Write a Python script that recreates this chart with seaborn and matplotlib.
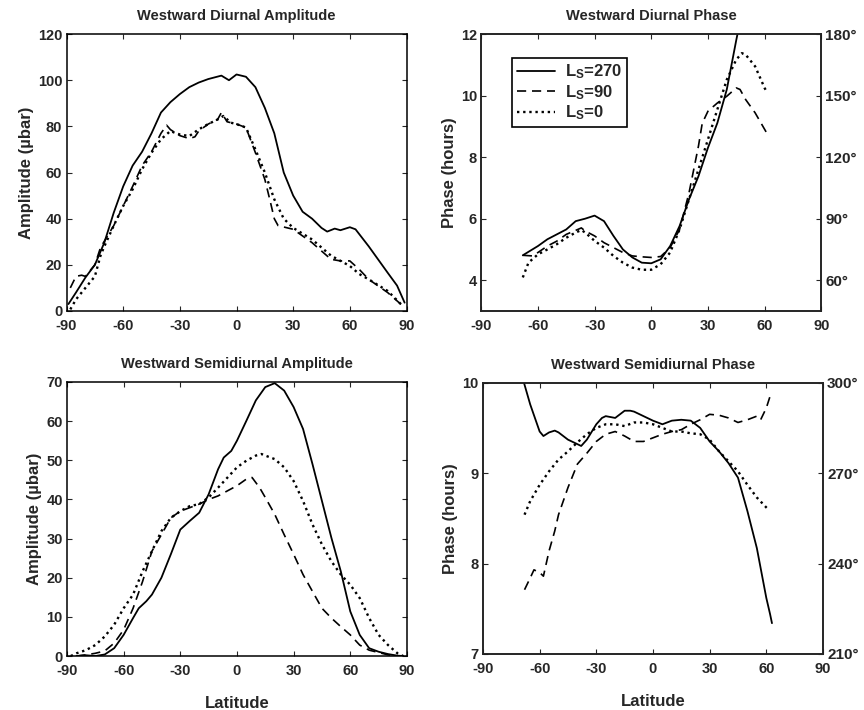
import numpy as np
import pandas as pd
import matplotlib
matplotlib.use("Agg")
import matplotlib.pyplot as plt
import seaborn as sns

# ---------------- data ----------------
# Westward diurnal amplitude (microbar)
da_lat_270 = [-89, -85, -80, -75, -70, -65, -60, -55, -50, -45, -40, -35, -30, -25, -20, -15, -8, -4, 0, 5, 10, 15, 20, 25, 30, 35, 40, 45, 48, 52, 55, 60, 63, 70, 80, 85, 89]
da_val_270 = [3, 8, 14.5, 20, 29.6, 42.6, 54, 63, 69, 77, 86, 90.5, 94, 97, 99, 100.5, 102, 100, 102.5, 101.5, 97, 88, 77, 60, 50, 43, 40, 36, 34.4, 35.7, 35, 36.3, 35.4, 28, 16.6, 11, 3.6]
da_lat_90 = [-88, -85, -82, -80, -75, -72, -65, -60, -55, -50, -45, -40, -37, -35, -30, -25, -22, -20, -15, -10, -8, -5, 0, 5, 10, 15, 18, 20, 22, 25, 30, 40, 50, 55, 60, 65, 70, 80, 88]
da_val_90 = [10, 15, 15.5, 15, 20, 27.5, 37, 45.5, 54, 63, 69, 77, 80.5, 78.6, 76, 74.7, 75.5, 78, 81, 83, 86, 82, 81, 79.5, 68.6, 57, 47, 40, 37, 36.4, 35.4, 29.6, 22.4, 21.7, 21.7, 18, 13.7, 8, 2.2]
da_lat_0 = [-88, -85, -80, -75, -72, -70, -65, -60, -55, -50, -45, -40, -35, -32, -30, -25, -20, -15, -10, -7, -3, 0, 5, 10, 15, 20, 25, 30, 40, 50, 60, 65, 70, 80, 88]
da_val_0 = [0.7, 5, 10, 15, 24, 28, 37, 45.5, 52.7, 61.4, 68.6, 74.4, 78, 77, 76.5, 75.8, 78.7, 81, 83, 84.5, 81.6, 81, 79.5, 70, 60, 48.4, 40, 36, 31, 24, 19.5, 16, 13.7, 8.7, 2.2]

# Westward diurnal phase (hours)
dp_lat_270 = [-68, -60, -55, -50, -45, -40, -35, -30, -25, -20, -15, -10, -5, 0, 5, 10, 15, 20, 25, 30, 35, 40, 45, 47]
dp_val_270 = [4.81, 5.11, 5.33, 5.49, 5.65, 5.92, 6.0, 6.1, 5.92, 5.44, 5.0, 4.74, 4.57, 4.55, 4.68, 5.11, 5.76, 6.63, 7.38, 8.3, 9.11, 10.2, 11.8, 12.4]
dp_lat_90 = [-68, -63, -60, -55, -50, -45, -40, -37, -35, -30, -25, -20, -15, -10, -5, 0, 5, 10, 15, 20, 25, 27, 30, 32, 35, 40, 45, 47, 50, 55, 61]
dp_val_90 = [4.81, 4.79, 4.9, 5.11, 5.27, 5.49, 5.62, 5.7, 5.6, 5.44, 5.22, 5.06, 4.9, 4.79, 4.76, 4.74, 4.77, 5.06, 5.65, 6.84, 8.36, 9.1, 9.49, 9.6, 9.76, 9.98, 10.25, 10.2, 9.87, 9.44, 8.8]
dp_lat_0 = [-68, -65, -60, -55, -50, -45, -40, -37, -35, -30, -25, -20, -15, -10, -5, 0, 5, 10, 15, 20, 25, 30, 35, 40, 45, 48, 50, 55, 60, 61]
dp_val_0 = [4.09, 4.57, 4.84, 5.0, 5.17, 5.38, 5.55, 5.63, 5.55, 5.28, 5.06, 4.79, 4.57, 4.41, 4.34, 4.34, 4.52, 4.9, 5.65, 6.63, 7.6, 8.57, 9.55, 10.52, 11.17, 11.38, 11.33, 10.95, 10.25, 10.14]

# Westward semidiurnal amplitude (microbar)
sa_lat_270 = [-85, -80, -75, -70, -65, -60, -55, -52, -48, -45, -40, -35, -30, -25, -20, -15, -10, -7, -3, 0, 5, 10, 15, 20, 25, 30, 35, 40, 45, 50, 55, 60, 65, 70, 75, 80, 85, 88]
sa_val_270 = [0, 0.2, 0, 0.4, 2, 5.4, 9.7, 12.2, 14, 15.7, 20, 26, 32.3, 34.5, 36.6, 41.3, 47.7, 50.7, 52.4, 55, 60.1, 65.3, 68.7, 69.7, 67.8, 63.6, 58, 49, 39.6, 30.2, 21.6, 11.4, 5.4, 2, 1.1, 0.5, 0.1, 0]
sa_lat_90 = [-85, -80, -75, -70, -65, -60, -55, -50, -45, -40, -35, -30, -25, -20, -15, -10, -5, 0, 5, 8, 12, 15, 20, 25, 30, 35, 40, 45, 50, 55, 60, 65, 70, 75, 80, 85]
sa_val_90 = [0, 0.3, 0.7, 1.3, 3.3, 6.7, 12.2, 19, 26.8, 31, 35.3, 37, 37.9, 38.8, 40, 40.9, 42.2, 43.5, 45.2, 45.6, 43, 40.5, 36.2, 31, 26, 20.8, 16.5, 12.2, 9.7, 7.5, 5.4, 2.8, 1.5, 0.9, 0.3, 0]
sa_lat_0 = [-88, -85, -80, -75, -70, -65, -60, -55, -50, -45, -40, -35, -30, -25, -20, -15, -10, -5, 0, 5, 10, 13, 15, 20, 25, 30, 35, 40, 45, 50, 55, 60, 65, 70, 75, 80, 85, 88]
sa_val_0 = [0, 0.7, 1.5, 2.8, 5, 8, 12.2, 15.7, 21.6, 26.8, 31.9, 35.3, 37, 38.3, 38.8, 40.5, 43, 45.6, 48.2, 49.9, 51.2, 51.6, 51.2, 50.3, 48.2, 44.7, 39.6, 33.6, 28.5, 24.2, 20.8, 18.2, 14.8, 9.7, 5.4, 2.8, 0.7, 0]

# Westward semidiurnal phase (hours)
sp_lat_270 = [-69, -65, -62, -60, -58, -55, -52, -50, -45, -40, -38, -35, -30, -27, -25, -20, -15, -12, -10, -5, 0, 5, 10, 15, 20, 25, 30, 35, 40, 45, 50, 55, 57, 60, 62, 63]
sp_val_270 = [10.05, 9.76, 9.58, 9.46, 9.41, 9.45, 9.47, 9.45, 9.37, 9.32, 9.3, 9.37, 9.54, 9.61, 9.63, 9.61, 9.69, 9.69, 9.68, 9.63, 9.58, 9.54, 9.58, 9.59, 9.58, 9.5, 9.35, 9.24, 9.11, 8.95, 8.58, 8.17, 7.95, 7.62, 7.44, 7.34]
sp_lat_90 = [-68, -65, -63, -60, -58, -55, -52, -50, -45, -40, -35, -30, -25, -20, -15, -10, -5, 0, 5, 10, 15, 20, 25, 30, 35, 40, 45, 50, 55, 57, 60, 62]
sp_val_90 = [7.71, 7.84, 7.93, 7.9, 7.86, 8.14, 8.36, 8.54, 8.84, 9.1, 9.22, 9.35, 9.43, 9.46, 9.41, 9.35, 9.35, 9.39, 9.43, 9.46, 9.48, 9.54, 9.59, 9.65, 9.64, 9.61, 9.56, 9.59, 9.63, 9.59, 9.72, 9.85]
sp_lat_0 = [-68, -65, -60, -55, -50, -45, -40, -35, -30, -25, -20, -15, -10, -5, 0, 5, 10, 15, 20, 25, 30, 35, 40, 45, 50, 55, 60, 61]
sp_val_0 = [8.54, 8.69, 8.87, 9.02, 9.15, 9.24, 9.34, 9.43, 9.5, 9.54, 9.54, 9.52, 9.56, 9.56, 9.54, 9.5, 9.46, 9.46, 9.44, 9.43, 9.37, 9.24, 9.13, 9.02, 8.87, 8.73, 8.62, 8.6]

season_labels = ["270", "90", "0"]
lat_ticks = [-90, -60, -30, 0, 30, 60, 90]

# ---------------- style ----------------
sns.set_style("ticks")
plt.rcParams["font.family"] = ["Liberation Sans", "DejaVu Sans"]
plt.rcParams["font.weight"] = "bold"
plt.rcParams["axes.labelweight"] = "bold"
plt.rcParams["axes.titleweight"] = "bold"
plt.rcParams["axes.unicode_minus"] = False
plt.rcParams["mathtext.fontset"] = "custom"
plt.rcParams["mathtext.rm"] = "Liberation Sans:bold"
plt.rcParams["mathtext.it"] = "Liberation Sans:bold"
plt.rcParams["mathtext.bf"] = "Liberation Sans:bold"

line_styles = ["-", (0, (5.5, 3.5)), (0, (1, 1.6))]
line_widths = [1.3, 1.2, 1.7]
TICK_FS = 10.5

fig = plt.figure(figsize=(8.64, 7.10), dpi=100)
ax1 = fig.add_axes([0.0770, 0.562, 0.3935, 0.390])
ax2 = fig.add_axes([0.5570, 0.562, 0.3935, 0.390])
ax3 = fig.add_axes([0.0775, 0.076, 0.3935, 0.386])
ax4 = fig.add_axes([0.5590, 0.079, 0.3935, 0.382])


def draw_series(ax, series):
    for (lat, val), ls, lw, lab in zip(series, line_styles, line_widths, season_labels):
        df = pd.DataFrame({"lat": lat, "val": val})
        sns.lineplot(data=df, x="lat", y="val", ax=ax, color="black",
                     linestyle=ls, linewidth=lw, sort=False, estimator=None,
                     label=r"L$_\mathrm{S}$=" + lab, legend=False)


def style_axes(ax, yticks, ylim, ylabel, title, xlabel=None):
    ax.set_xlim(-90, 90)
    ax.set_xticks(lat_ticks)
    ax.set_ylim(*ylim)
    ax.set_yticks(yticks)
    ax.set_ylabel(ylabel, fontsize=12, labelpad=3)
    ax.set_xlabel(xlabel if xlabel else "", fontsize=12, labelpad=13)
    ax.set_title(title, fontsize=10.5, pad=10)
    ax.tick_params(direction="in", length=3.5, width=0.8, labelsize=TICK_FS,
                   top=True, right=True, pad=3)
    ax.tick_params(axis="x", pad=6)
    for s in ax.spines.values():
        s.set_linewidth(1.1)
        s.set_color("black")


draw_series(ax1, [(da_lat_270, da_val_270), (da_lat_90, da_val_90), (da_lat_0, da_val_0)])
style_axes(ax1, range(0, 121, 20), (0, 120), "Amplitude (\u00b5bar)", "Westward Diurnal Amplitude")

draw_series(ax2, [(dp_lat_270, dp_val_270), (dp_lat_90, dp_val_90), (dp_lat_0, dp_val_0)])
style_axes(ax2, [4, 6, 8, 10, 12], (3, 12), "Phase (hours)", "Westward Diurnal Phase")
ax2.tick_params(right=False)
leg = ax2.legend(loc="upper left", bbox_to_anchor=(0.09, 0.915), handlelength=2.3,
                 fontsize=12, frameon=True, fancybox=False, framealpha=1,
                 borderpad=0.3, labelspacing=0.1, handletextpad=0.6,
                 borderaxespad=0, edgecolor="black")
leg.get_frame().set_linewidth(1.2)

draw_series(ax3, [(sa_lat_270, sa_val_270), (sa_lat_90, sa_val_90), (sa_lat_0, sa_val_0)])
style_axes(ax3, range(0, 71, 10), (0, 70), "Amplitude (\u00b5bar)", "Westward Semidiurnal Amplitude", "Latitude")

draw_series(ax4, [(sp_lat_270, sp_val_270), (sp_lat_90, sp_val_90), (sp_lat_0, sp_val_0)])
style_axes(ax4, [7, 8, 9, 10], (7, 10), "Phase (hours)", "Westward Semidiurnal Phase", "Latitude")
ax4.tick_params(right=False)

# Right-hand phase axes in degrees
for ax, factor, dticks in [(ax2, 15, [60, 90, 120, 150, 180]), (ax4, 30, [210, 240, 270, 300])]:
    tw = ax.twinx()
    lo, hi = ax.get_ylim()
    tw.set_ylim(lo * factor, hi * factor)
    tw.set_yticks(dticks)
    tw.set_yticklabels([f"{d}\u00b0" for d in dticks])
    tw.tick_params(direction="in", length=3.5, width=0.8, labelsize=TICK_FS + 0.5, pad=3)
    for s in tw.spines.values():
        s.set_linewidth(1.1)

fig.savefig("out.png", dpi=100, facecolor="white")
